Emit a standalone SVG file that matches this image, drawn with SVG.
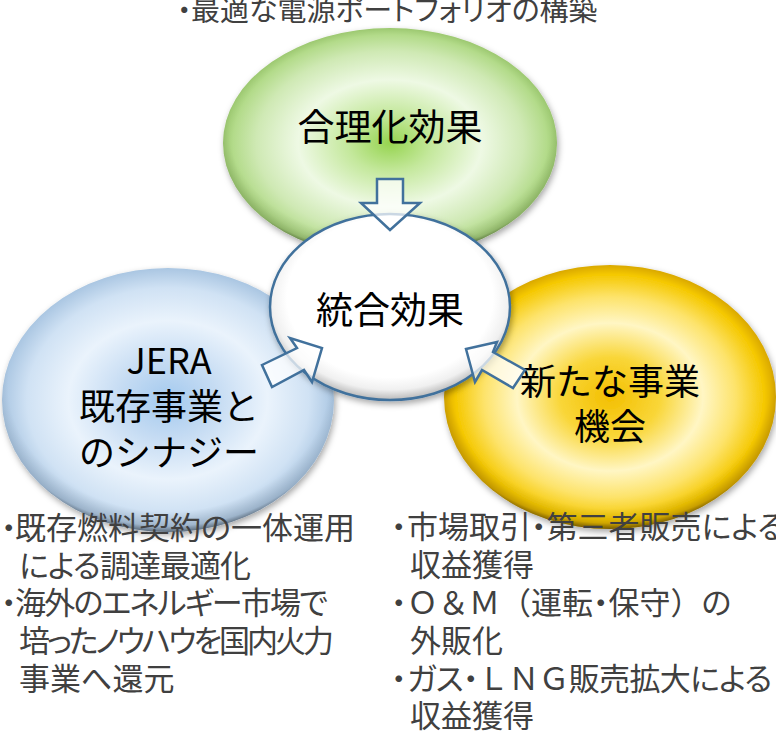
<svg xmlns="http://www.w3.org/2000/svg" width="776" height="732" viewBox="0 0 776 732">
<style>
  .lbl { font-family: "Noto Sans CJK JP", "Noto Sans", sans-serif; font-size: 37px; fill: #000; text-anchor: middle; }
  .b { font-family: "Noto Sans CJK JP", "Noto Sans", sans-serif; font-size: 31px; fill: #404040; font-feature-settings: "palt"; }
  .np { font-feature-settings: normal; }
  .arrow { fill: #ffffff; fill-opacity: 0.72; stroke: #41719c; stroke-width: 2.5; stroke-linejoin: miter; }
  .rim { fill: url(#rim); }
</style>
<defs>
  <filter id="sh" x="-10%" y="-10%" width="120%" height="125%">
    <feDropShadow dx="1.5" dy="3" stdDeviation="3" flood-color="#000" flood-opacity="0.35"/>
  </filter>
  <radialGradient id="gGreen" cx="0.5" cy="0.5" r="0.5">
    <stop offset="0" stop-color="#96d450"/>
    <stop offset="0.25" stop-color="#c4e89c"/>
    <stop offset="0.55" stop-color="#eef9e4"/>
    <stop offset="0.8" stop-color="#cfe9b4"/>
    <stop offset="0.94" stop-color="#b3db8a"/>
    <stop offset="1" stop-color="#9cc870"/>
  </radialGradient>
  <radialGradient id="gBlue" cx="0.5" cy="0.5" r="0.5">
    <stop offset="0" stop-color="#a3c9ee"/>
    <stop offset="0.3" stop-color="#c6dcf3"/>
    <stop offset="0.6" stop-color="#eaf3fc"/>
    <stop offset="0.85" stop-color="#d0e2f4"/>
    <stop offset="1" stop-color="#aac6e2"/>
  </radialGradient>
  <radialGradient id="gYellow" cx="0.5" cy="0.5" r="0.5">
    <stop offset="0" stop-color="#f3bf00"/>
    <stop offset="0.3" stop-color="#f9d638"/>
    <stop offset="0.56" stop-color="#fff6c4"/>
    <stop offset="0.76" stop-color="#fde36a"/>
    <stop offset="0.93" stop-color="#f5c800"/>
    <stop offset="1" stop-color="#d9a800"/>
  </radialGradient>
  <radialGradient id="gWhite" cx="0.5" cy="0.45" r="0.55">
    <stop offset="0" stop-color="#ffffff"/>
    <stop offset="0.78" stop-color="#ffffff"/>
    <stop offset="0.9" stop-color="#f0f0f0"/>
    <stop offset="1" stop-color="#b8b8b8"/>
  </radialGradient>
  <radialGradient id="rim" cx="0.5" cy="0.44" r="0.56">
    <stop offset="0.86" stop-color="#000" stop-opacity="0"/>
    <stop offset="0.96" stop-color="#000" stop-opacity="0.12"/>
    <stop offset="1" stop-color="#000" stop-opacity="0.45"/>
  </radialGradient>
</defs>

<g id="node-gouri">
  <ellipse cx="390" cy="143" rx="167" ry="115" fill="url(#gGreen)" filter="url(#sh)"/>
  <ellipse class="rim" cx="390" cy="143" rx="167" ry="115"/>
  <text class="lbl" x="390" y="141">合理化効果</text>
</g>

<g id="node-synergy">
  <ellipse cx="168" cy="400" rx="166" ry="132" fill="url(#gBlue)" filter="url(#sh)"/>
  <ellipse class="rim" cx="168" cy="400" rx="166" ry="132"/>
  <text class="lbl" style="font-size:36px" x="169" y="374">JERA</text>
  <text class="lbl" style="font-size:36px" x="169" y="420">既存事業と</text>
  <text class="lbl" style="font-size:36px" x="169" y="466">のシナジー</text>
</g>

<g id="node-new">
  <ellipse cx="610" cy="397" rx="166" ry="132" fill="url(#gYellow)" filter="url(#sh)"/>
  <ellipse class="rim" cx="610" cy="397" rx="166" ry="132"/>
  <text class="lbl" style="font-size:36px" x="610" y="395">新たな事業</text>
  <text class="lbl" style="font-size:36px" x="610" y="440">機会</text>
</g>

<g id="node-tougou">
  <ellipse cx="390" cy="307" rx="120" ry="93" fill="url(#gWhite)" stroke="#41719c" stroke-width="2.5" filter="url(#sh)"/>
  <text class="lbl" x="390" y="324">統合効果</text>
</g>

<g id="connectors">
  <polygon class="arrow" points="377,179 403,179 403,203 420,203 390,230 361,203 377,203"/>
  <polygon class="arrow" points="262,365 297,348 290,338 322,348 312,382 304,370 272,387"/>
  <polygon class="arrow" points="466,349 497,342 493,352 525,370 513,388 482,370 475,382"/>
</g>

<g id="text-top">
  <text class="b" style="font-size:29px" y="21"><tspan x="177">・</tspan><tspan x="191">最適な電源ポートフォリオの構築</tspan></text>
</g>

<g id="text-left">
  <text class="b" y="539"><tspan x="1">・</tspan><tspan x="15">既存燃料契約の一体運用</tspan></text>
  <text class="b" x="19" y="577" textLength="232" lengthAdjust="spacing">による調達最適化</text>
  <text class="b" y="614"><tspan x="1">・</tspan><tspan x="15" textLength="313" lengthAdjust="spacing">海外のエネルギー市場で</tspan></text>
  <text class="b" x="19" y="652" textLength="315" lengthAdjust="spacing">培ったノウハウを国内火力</text>
  <text class="b" x="19" y="690">事業へ還元</text>
</g>

<g id="text-right">
  <text class="b" y="538"><tspan x="391">・</tspan><tspan x="407">市場取引・第三者販売による</tspan></text>
  <text class="b" x="410" y="576">収益獲得</text>
  <text class="b" y="614"><tspan x="391">・</tspan><tspan class="np" x="407">Ｏ＆Ｍ（</tspan><tspan>運転・保守</tspan><tspan class="np">）</tspan><tspan>の</tspan></text>
  <text class="b" x="410" y="652">外販化</text>
  <text class="b" y="690" style="letter-spacing:-0.7px"><tspan x="391">・</tspan><tspan x="407">ガス・</tspan><tspan class="np">ＬＮＧ</tspan><tspan>販売拡大による</tspan></text>
  <text class="b" x="410" y="727">収益獲得</text>
</g>
</svg>
